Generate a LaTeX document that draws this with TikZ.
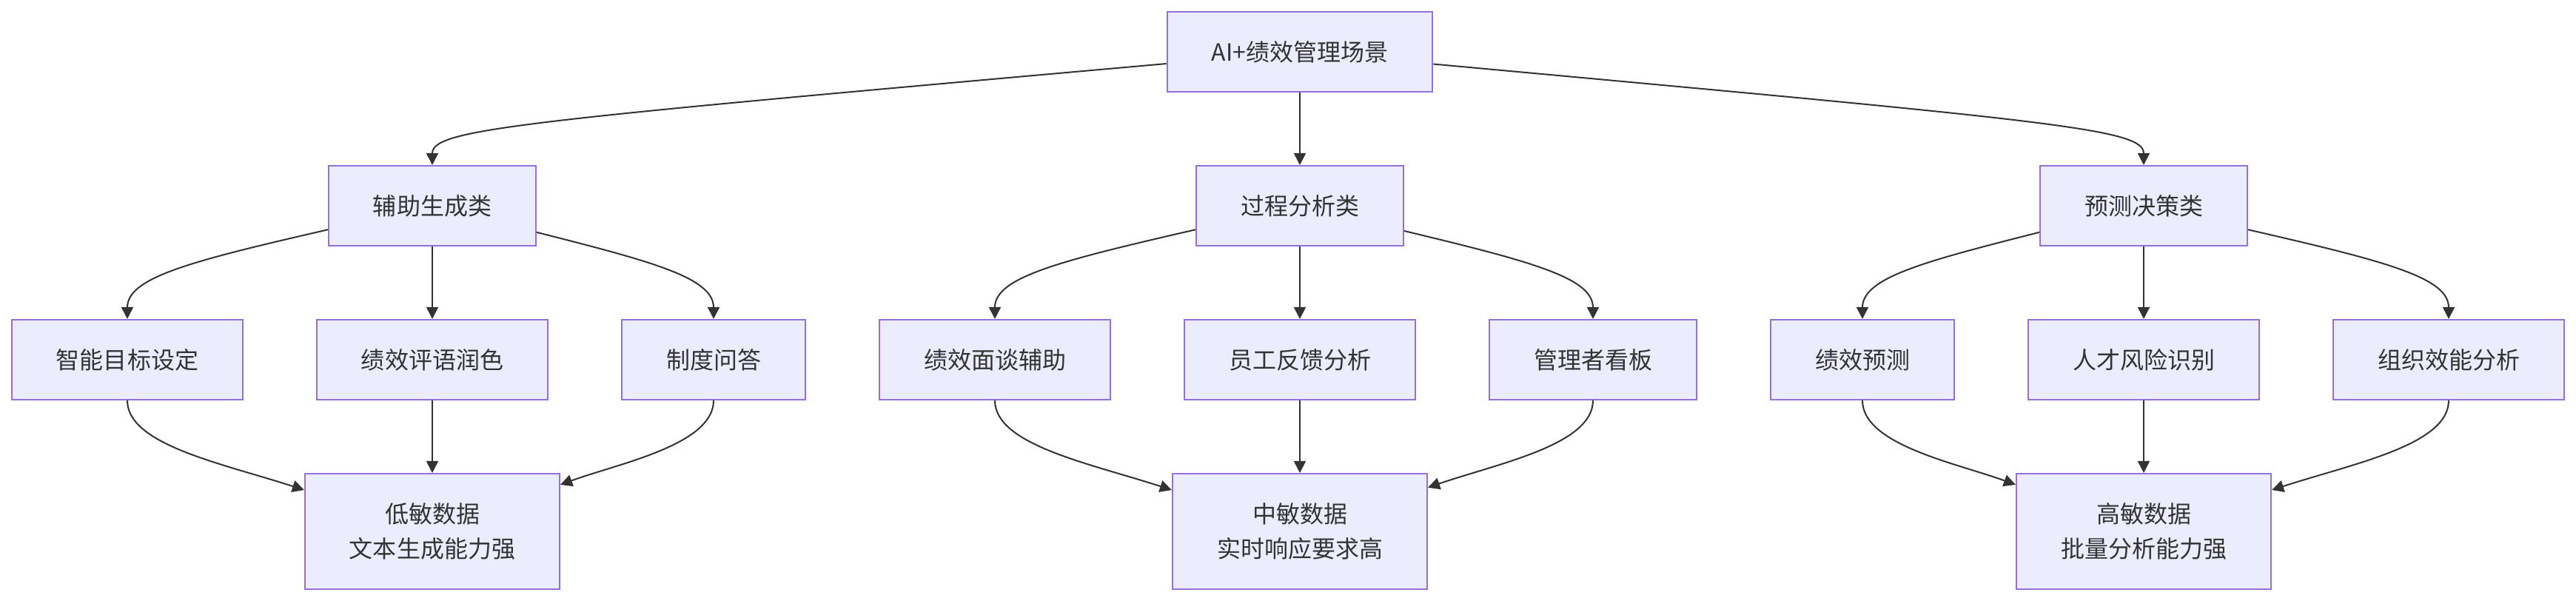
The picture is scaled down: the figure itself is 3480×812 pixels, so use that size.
\documentclass[tikz,border=0pt]{standalone}
\usepackage{fontspec}
\setmainfont{Noto Sans CJK SC}
\usepackage{tikz}
\usetikzlibrary{arrows.meta,positioning,calc}
\definecolor{boxfill}{HTML}{ECECFF}
\definecolor{boxline}{HTML}{9370DB}
\definecolor{ink}{HTML}{333333}

\begin{document}
\begin{tikzpicture}[x=0.01cm, y=0.01cm,
  box/.style={draw=boxline, fill=boxfill, line width=0.02cm, text=ink,
    font=\fontsize{9.1pt}{13.5pt}\selectfont, inner xsep=0.6cm, inner ysep=0pt,
    minimum height=1.08cm, align=center},
  databox/.style={box, minimum height=1.56cm},
  arr/.style={draw=ink, line width=0.02cm, -{Triangle[length=0.16cm, width=0.16cm]}}]
  \useasboundingbox (0,0) rectangle (3480,812);
  % Root
  \node[box] (root) at (1756,742) {AI+绩效管理场景};
  % Categories
  \node[box] (gen) at (584,534) {辅助生成类};
  \node[box] (proc) at (1756,534) {过程分析类};
  \node[box] (pred) at (2896,534) {预测决策类};
  % Scenarios
  \node[box] (goal) at (172,326) {智能目标设定};
  \node[box] (review) at (584,326) {绩效评语润色};
  \node[box] (qa) at (964,326) {制度问答};
  \node[box] (talk) at (1344,326) {绩效面谈辅助};
  \node[box] (feedback) at (1756,326) {员工反馈分析};
  \node[box] (board) at (2152,326) {管理者看板};
  \node[box] (forecast) at (2516,326) {绩效预测};
  \node[box] (risk) at (2896,326) {人才风险识别};
  \node[box] (org) at (3308,326) {组织效能分析};
  % Data levels
  \node[databox] (low) at (584,94) {低敏数据\\文本生成能力强};
  \node[databox] (mid) at (1756,94) {中敏数据\\实时响应要求高};
  \node[databox] (high) at (2896,94) {高敏数据\\批量分析能力强};
  % Root to categories
  \draw[arr] (root) .. controls ($(gen.north)+(116,59)$) and ($(gen.north)+(0,49)$) .. (gen);
  \draw[arr] (root) -- (proc);
  \draw[arr] (root) .. controls ($(pred.north)+(-116,59)$) and ($(pred.north)+(0,49)$) .. (pred);
  % Categories to scenarios
  \draw[arr] (gen) .. controls ($(goal.north)+(85,78)$) and ($(goal.north)+(0,56)$) .. (goal);
  \draw[arr] (gen) -- (review);
  \draw[arr] (gen) .. controls ($(qa.north)+(-85,78)$) and ($(qa.north)+(0,56)$) .. (qa);
  \draw[arr] (proc) .. controls ($(talk.north)+(85,78)$) and ($(talk.north)+(0,56)$) .. (talk);
  \draw[arr] (proc) -- (feedback);
  \draw[arr] (proc) .. controls ($(board.north)+(-85,78)$) and ($(board.north)+(0,56)$) .. (board);
  \draw[arr] (pred) .. controls ($(forecast.north)+(85,78)$) and ($(forecast.north)+(0,56)$) .. (forecast);
  \draw[arr] (pred) -- (risk);
  \draw[arr] (pred) .. controls ($(org.north)+(-85,78)$) and ($(org.north)+(0,56)$) .. (org);
  % Scenarios to data levels
  \draw[arr] (goal) .. controls ($(goal.south)+(0,-60)$) and ($(goal.south)+(128,-85)$) .. (low);
  \draw[arr] (review) -- (low);
  \draw[arr] (qa) .. controls ($(qa.south)+(0,-60)$) and ($(qa.south)+(-128,-85)$) .. (low);
  \draw[arr] (talk) .. controls ($(talk.south)+(0,-60)$) and ($(talk.south)+(128,-85)$) .. (mid);
  \draw[arr] (feedback) -- (mid);
  \draw[arr] (board) .. controls ($(board.south)+(0,-60)$) and ($(board.south)+(-128,-85)$) .. (mid);
  \draw[arr] (forecast) .. controls ($(forecast.south)+(0,-60)$) and ($(forecast.south)+(128,-85)$) .. (high);
  \draw[arr] (risk) -- (high);
  \draw[arr] (org) .. controls ($(org.south)+(0,-60)$) and ($(org.south)+(-128,-85)$) .. (high);
\end{tikzpicture}
\end{document}
